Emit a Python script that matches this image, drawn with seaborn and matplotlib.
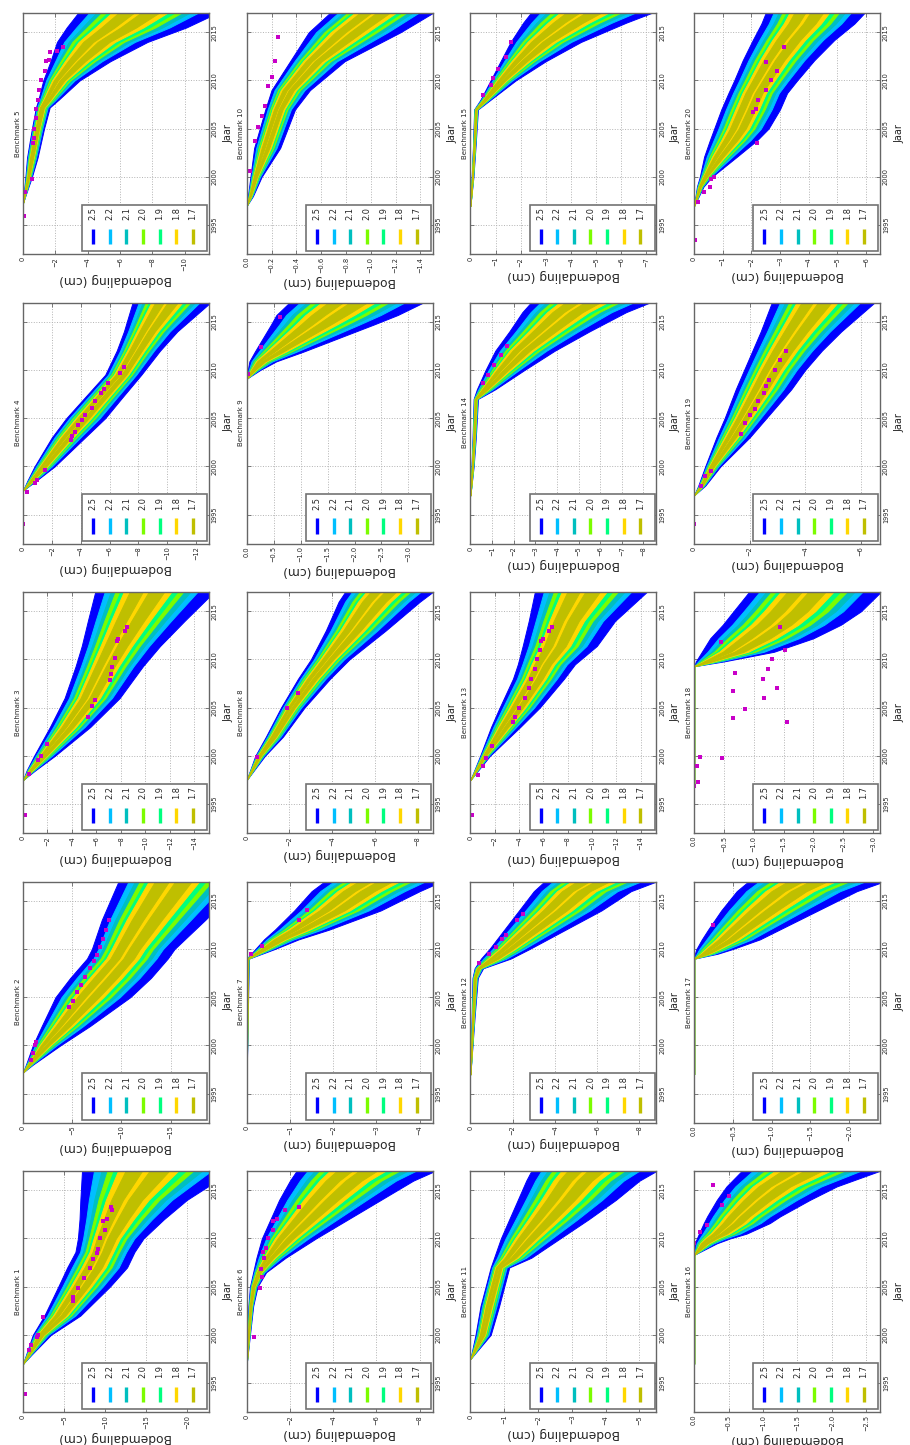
import numpy as np
import matplotlib
matplotlib.use("Agg")
import matplotlib.pyplot as plt
from matplotlib.patches import Rectangle
from matplotlib.ticker import MultipleLocator
from matplotlib import font_manager as fm
import seaborn as sns

# ---------------------------------------------------------------- legend levels
LEVELS = ["2.5", "2.2", "2.1", "2.0", "1.9", "1.8", "1.7"]
LEVEL_COLORS = ["#0000ff", "#00bfff", "#00bfbf", "#7cfc00", "#00ff7f", "#ffd700", "#bfbf00"]

# band layout across the envelope (0 = shallow edge, 1 = deep edge), drawn in order
BAND_COLOR = ["#0000ff", "#00bfff", "#00bfbf", "#7cfc00", "#00ff7f", "#ffd700", "#bfbf00", "#bfbf00"]
BAND_LO = [0.00, 0.08, 0.13, 0.17, 0.21, 0.24, 0.29, 0.45]
BAND_HI = [1.00, 0.86, 0.80, 0.74, 0.69, 0.64, 0.40, 0.58]

# axis minimum (cm) and tick step per benchmark 1..20
AX_MIN = [-22.7, -18.9, -15.2, -12.9, -11.5,
          -8.6, -4.3, -8.7, -3.45, -1.5,
          -5.5, -8.8, -15.3, -8.6, -7.4,
          -2.7, -2.4, -3.12, -6.7, -6.5]
TICK_STEP = [5, 5, 2, 2, 2,
             2, 1, 2, 0.5, 0.2,
             1, 2, 2, 1, 1,
             0.5, 0.5, 0.5, 2, 1]

# ---------------------------------------------------------------- envelopes & measurements
B1_T = [1997, 1998, 2000, 2002, 2005, 2007, 2008.6, 2010, 2012, 2014, 2017]
B1_S = [0, -0.4, -1.2, -2.6, -4.3, -5.4, -6.4, -6.7, -6.9, -7.0, -7.2]
B1_D = [0, -1.1, -3.4, -7.0, -10.6, -12.7, -13.6, -14.7, -17.2, -20.0, -25.5]
B1_PT = [1993.9, 1998.4, 1998.9, 1999.8, 2000.0, 2001.9, 2003.5, 2003.9, 2004.9, 2005.9,
         2006.9, 2007.9, 2008.5, 2008.9, 2010.0, 2010.9, 2011.8, 2012.0, 2013.0, 2013.3]
B1_PV = [-0.3, -0.7, -1.0, -1.7, -1.8, -2.4, -6.1, -6.1, -6.7, -7.5,
         -8.2, -8.6, -9.0, -9.1, -9.4, -10.0, -9.8, -10.3, -10.9, -10.7]

B2_T = [1997.2, 1998, 2000, 2002, 2005, 2007, 2009, 2010, 2013, 2017]
B2_S = [0, -0.3, -1.0, -1.9, -3.3, -4.8, -6.5, -7.0, -8.0, -9.7]
B2_D = [0, -1.0, -3.8, -6.8, -10.9, -13.0, -14.7, -15.4, -18.5, -22.5]
B2_PT = [1998.5, 1999.2, 2000.0, 2000.3, 2004.0, 2004.6, 2005.5, 2006.3, 2007.1, 2008.0,
         2008.8, 2009.4, 2010.2, 2011.0, 2012.0, 2013.0]
B2_PV = [-0.8, -1.0, -1.2, -1.3, -4.7, -5.1, -5.5, -5.9, -6.3, -6.8,
         -7.2, -7.5, -7.8, -8.1, -8.4, -8.7]

B3_T = [1997.5, 1998.5, 2000, 2003, 2006, 2009.3, 2011.4, 2014, 2017]
B3_S = [0, -0.3, -0.9, -2.2, -3.4, -4.3, -4.8, -5.3, -5.9]
B3_D = [0, -1.0, -2.6, -5.5, -7.9, -9.8, -11.2, -13.2, -15.6]
B3_PT = [1993.9, 1998.1, 1999.6, 2000.0, 2001.2, 2004.0, 2005.2, 2005.8, 2007.9, 2008.5,
         2009.2, 2010.2, 2011.9, 2012.1, 2013.0, 2013.4]
B3_PV = [-0.2, -0.5, -1.2, -1.5, -2.0, -5.3, -5.6, -5.9, -7.1, -7.2,
         -7.3, -7.5, -7.7, -7.8, -8.3, -8.5]

B4_T = [1997.5, 1998.5, 2000, 2003, 2005, 2007, 2009.5, 2012, 2014, 2017]
B4_S = [0, -0.3, -0.8, -2.0, -3.0, -4.2, -5.7, -6.5, -7.0, -7.6]
B4_D = [0, -0.9, -2.2, -4.3, -5.7, -6.8, -8.2, -9.5, -10.7, -13.0]
B4_PT = [1994.0, 1997.3, 1998.3, 1998.6, 1999.6, 2002.7, 2003.2, 2003.6, 2004.3, 2004.8,
         2005.3, 2006.1, 2006.8, 2007.6, 2008.0, 2008.7, 2009.7, 2010.3]
B4_PV = [0.0, -0.3, -0.8, -1.0, -1.5, -3.3, -3.4, -3.6, -3.8, -4.1,
         -4.3, -4.8, -5.0, -5.4, -5.6, -5.9, -6.7, -7.0]

B5_T = [1997.3, 1998.3, 2000, 2002, 2005, 2007.2, 2008, 2010, 2012, 2014, 2015.5, 2017]
B5_S = [0, -0.05, -0.15, -0.25, -0.55, -0.8, -0.95, -1.25, -1.7, -2.1, -2.7, -3.4]
B5_D = [0, -0.2, -0.55, -0.9, -1.3, -1.65, -2.2, -3.5, -5.4, -7.7, -10.1, -12.0]
B5_PT = [1995.9, 1998.4, 1999.8, 2003.5, 2004.0, 2005.0, 2006.1, 2007.0, 2008.0, 2009.0,
         2010.0, 2011.0, 2012.0, 2012.1, 2013.0, 2013.1, 2013.5]
B5_PV = [-0.05, -0.1, -0.55, -0.6, -0.65, -0.7, -0.8, -0.8, -0.95, -1.0,
         -1.1, -1.35, -1.4, -1.6, -1.7, -2.1, -2.5]

B6_T = [1997, 2000, 2003, 2005, 2006.5, 2008, 2010, 2012, 2014, 2016, 2017]
B6_S = [0, -0.03, -0.08, -0.15, -0.3, -0.45, -0.7, -1.1, -1.5, -2.0, -2.3]
B6_D = [0, -0.15, -0.3, -0.5, -0.9, -1.8, -3.2, -4.7, -6.2, -7.7, -8.7]
B6_PT = [1999.8, 2004.9, 2006.0, 2006.8, 2008.0, 2008.6, 2009.0, 2010.0, 2010.9, 2011.8,
         2012.0, 2013.0, 2013.3]
B6_PV = [-0.35, -0.6, -0.7, -0.65, -0.8, -0.77, -0.9, -0.97, -1.2, -1.2,
         -1.4, -1.75, -2.4]

B7_T = [1997, 2009, 2010, 2011, 2012, 2014, 2016, 2017]
B7_S = [0, 0, -0.2, -0.4, -0.65, -1.1, -1.5, -1.8]
B7_D = [0, -0.05, -0.65, -1.2, -1.9, -3.1, -4.0, -4.5]
B7_PT = [2009.5, 2010.3, 2013.0, 2014.0]
B7_PV = [-0.1, -0.35, -1.2, -1.4]

B8_T = [1997.5, 2000, 2002, 2005, 2008, 2010, 2013, 2016, 2017]
B8_S = [0, -0.4, -0.9, -1.6, -2.4, -3.0, -3.7, -4.3, -4.6]
B8_D = [0, -0.85, -1.7, -2.7, -3.9, -4.8, -6.5, -8.1, -8.7]
B8_PT = [1999.9, 2005.0, 2006.5]
B8_PV = [-0.5, -1.9, -2.4]

B9_T = [1997, 2009.1, 2010, 2010.9, 2011.9, 2013.3, 2014.7, 2015.7, 2017.2]
B9_S = [0, 0, -0.02, -0.05, -0.15, -0.3, -0.45, -0.55, -0.83]
B9_D = [0, 0, -0.25, -0.55, -1.05, -1.7, -2.35, -2.8, -3.35]
B9_PT = [2009.6, 2012.4, 2015.5]
B9_PV = [-0.03, -0.26, -0.62]

B10_T = [1997, 1998, 2000, 2003, 2007, 2009, 2012, 2015, 2017]
B10_S = [0, -0.01, -0.03, -0.06, -0.15, -0.2, -0.35, -0.5, -0.67]
B10_D = [0, -0.05, -0.12, -0.27, -0.39, -0.51, -0.79, -1.24, -1.5]
B10_PT = [2000.6, 2003.7, 2005.2, 2006.3, 2007.4, 2009.4, 2010.4, 2012.0, 2014.5]
B10_PV = [-0.03, -0.07, -0.09, -0.12, -0.15, -0.17, -0.2, -0.23, -0.25]

B11_T = [1997.5, 2000, 2003, 2005, 2007, 2008, 2010, 2012, 2014, 2016, 2017]
B11_S = [0, -0.15, -0.3, -0.45, -0.6, -0.7, -0.9, -1.15, -1.4, -1.65, -1.8]
B11_D = [0, -0.6, -0.85, -1.0, -1.15, -1.8, -2.65, -3.5, -4.3, -5.0, -5.5]
B11_PT = []
B11_PV = []

B12_T = [1997, 2000, 2003, 2007, 2008, 2009, 2010, 2012, 2014, 2016, 2017]
B12_S = [0, -0.03, -0.06, -0.1, -0.2, -0.5, -0.9, -1.6, -2.3, -3.0, -3.5]
B12_D = [0, -0.1, -0.2, -0.35, -0.6, -1.9, -2.8, -4.5, -6.2, -7.6, -8.8]
B12_PT = [2008.5, 2009.5, 2010.2, 2011.0, 2011.5, 2013.0, 2013.6]
B12_PV = [-0.4, -0.9, -1.2, -1.5, -1.7, -2.2, -2.5]

B13_T = [1997.5, 2000, 2003, 2005, 2008, 2009.5, 2011.4, 2014, 2017]
B13_S = [0, -0.8, -1.7, -2.4, -3.5, -3.9, -4.3, -4.8, -5.3]
B13_D = [0, -1.6, -4.1, -5.7, -7.7, -8.6, -10.4, -11.9, -14.5]
B13_PT = [1993.9, 1998.0, 1999.0, 1999.8, 2001.0, 2003.5, 2004.0, 2005.0, 2006.0, 2007.0,
          2008.0, 2009.0, 2010.0, 2011.0, 2011.9, 2012.1, 2013.0, 2013.4]
B13_PV = [-0.1, -0.6, -1.0, -1.3, -1.8, -3.5, -3.7, -4.0, -4.5, -4.8,
          -5.0, -5.3, -5.5, -5.7, -5.8, -6.0, -6.5, -6.7]

B14_T = [1997, 2000, 2003, 2007, 2008, 2010, 2012, 2014, 2016, 2017]
B14_S = [0, -0.05, -0.1, -0.15, -0.3, -0.7, -1.15, -1.8, -2.4, -2.8]
B14_D = [0, -0.15, -0.25, -0.35, -1.15, -2.5, -3.9, -5.5, -7.2, -8.3]
B14_PT = [2008.6, 2009.5, 2010.5, 2011.6, 2012.5]
B14_PV = [-0.6, -0.8, -1.1, -1.4, -1.7]

B15_T = [1997, 2000, 2003, 2007, 2008, 2010, 2012, 2014, 2016, 2017]
B15_S = [0, -0.05, -0.1, -0.15, -0.4, -0.8, -1.2, -1.6, -2.1, -2.4]
B15_D = [0, -0.12, -0.2, -0.3, -0.8, -1.8, -3.0, -4.4, -6.2, -7.2]
B15_PT = [2008.5, 2009.5, 2010.3, 2011.2, 2012.4, 2014.0]
B15_PV = [-0.5, -0.8, -0.9, -1.1, -1.4, -1.6]

B16_T = [1997, 2008.3, 2009.5, 2010, 2010.5, 2011.6, 2012.3, 2014, 2015.4, 2017]
B16_S = [0, 0, -0.01, -0.04, -0.07, -0.14, -0.19, -0.33, -0.47, -0.69]
B16_D = [0, 0, -0.33, -0.52, -0.76, -1.1, -1.25, -1.68, -2.07, -2.69]
B16_PT = [2009.5, 2010.7, 2011.4, 2013.5, 2014.4, 2015.5]
B16_PV = [0.0, -0.08, -0.18, -0.4, -0.51, -0.27]

B17_T = [1997, 2009, 2009.5, 2010, 2011, 2012, 2014, 2016, 2017]
B17_S = [0, 0, -0.01, -0.03, -0.1, -0.18, -0.35, -0.55, -0.7]
B17_D = [0, 0, -0.3, -0.5, -0.85, -1.1, -1.6, -2.1, -2.45]
B17_PT = [2012.5]
B17_PV = [-0.25]

B18_T = [1997, 2009.3, 2009.8, 2010.8, 2012.2, 2013.6, 2015, 2017]
B18_S = [0, 0, -0.03, -0.13, -0.27, -0.48, -0.66, -0.92]
B18_D = [0, 0, -0.5, -1.34, -2.0, -2.46, -2.8, -3.13]
B18_PT = [1996.9, 1997.3, 1998.9, 1999.9, 1999.8, 2003.9, 2004.9, 2003.5, 2006.7, 2006.0,
          2007.0, 2008.0, 2008.6, 2009.0, 2010.0, 2011.0, 2011.8, 2013.4]
B18_PV = [0.0, -0.07, -0.05, -0.1, -0.46, -0.65, -0.85, -1.55, -0.66, -1.18,
          -1.39, -1.16, -0.69, -1.24, -1.3, -1.53, -0.45, -1.44]

B19_T = [1997, 1998, 2000, 2003, 2005, 2008, 2010, 2012, 2014, 2017]
B19_S = [0, -0.15, -0.4, -0.8, -1.1, -1.5, -1.8, -2.1, -2.4, -2.8]
B19_D = [0, -0.4, -0.95, -2.0, -2.6, -3.5, -4.0, -4.6, -5.3, -6.5]
B19_PT = [1994.0, 1998.0, 1999.0, 1999.5, 2003.4, 2004.5, 2005.3, 2006.0, 2006.8, 2007.6,
          2008.3, 2009.0, 2010.0, 2011.0, 2012.0]
B19_PV = [0.0, -0.25, -0.4, -0.6, -1.7, -1.85, -2.0, -2.2, -2.3, -2.5,
          -2.6, -2.7, -2.9, -3.1, -3.3]

B20_T = [1997, 1999, 2000, 2002.1, 2003.8, 2005, 2007, 2008.7, 2010, 2012.1, 2014.2, 2015.9, 2017]
B20_S = [0, -0.1, -0.2, -0.35, -0.55, -0.7, -0.95, -1.2, -1.4, -1.7, -2.05, -2.35, -2.5]
B20_D = [0, -0.33, -0.62, -1.5, -2.2, -2.6, -3.0, -3.25, -3.6, -4.2, -4.9, -5.6, -5.95]
B20_PT = [1993.5, 1997.4, 1998.4, 1998.9, 1999.8, 2000.0, 2003.5, 2006.7, 2007.0, 2008.0,
          2009.0, 2010.0, 2011.0, 2011.9, 2013.5]
B20_PV = [-0.04, -0.12, -0.33, -0.56, -0.58, -0.7, -2.2, -2.06, -2.18, -2.23,
          -2.5, -2.7, -2.9, -2.53, -3.13]

_g = globals()
benchmarks = [(_g[f"B{k}_T"], _g[f"B{k}_S"], _g[f"B{k}_D"], _g[f"B{k}_PT"], _g[f"B{k}_PV"])
              for k in range(1, 21)]

# ---------------------------------------------------------------- style
sns.set_style("white")
_names = {f.name for f in fm.fontManager.ttflist}
if "Liberation Sans Narrow" in _names:
    NARROW, SC = "Liberation Sans Narrow", 1.0
else:
    NARROW, SC = "DejaVu Sans", 0.74
plt.rcParams["font.family"] = [NARROW, "DejaVu Sans"]
plt.rcParams["axes.unicode_minus"] = True

W, H = 910, 1445
fig = plt.figure(figsize=(W / 100, H / 100), dpi=100)

COL_LEFT = [23, 246.7, 470.4, 694.1]
ROW_BOTTOM = [1412, 1122.5, 833, 543.5, 254]
AX_W, AX_H = 186, 241

for i, (T, S, D, PT, PV) in enumerate(benchmarks):
    c, r = divmod(i, 5)
    xl, yb = COL_LEFT[c], ROW_BOTTOM[r]
    ax = fig.add_axes([xl / W, (H - yb) / H, AX_W / W, AX_H / H])

    T = np.asarray(T, float)
    S = np.asarray(S, float)
    D = np.asarray(D, float)
    for col, lo, hi in zip(BAND_COLOR, BAND_LO, BAND_HI):
        ax.fill_betweenx(T, S + lo * (D - S), S + hi * (D - S),
                         facecolor=col, edgecolor=col, lw=0.7, zorder=1)

    if len(PT):
        sns.scatterplot(x=PV, y=PT, ax=ax, color="#c800c8", s=6, linewidth=0,
                        marker="s", zorder=4)

    ax.set_xlim(0, AX_MIN[i])
    ax.set_ylim(1992, 2017)
    ax.xaxis.set_major_locator(MultipleLocator(TICK_STEP[i]))
    ax.yaxis.set_major_locator(MultipleLocator(5))
    ax.yaxis.tick_right()
    ax.yaxis.set_label_position("right")
    ax.tick_params(axis="both", direction="in", length=3, width=0.6, color="0.4",
                   top=True, bottom=True, left=True, right=True,
                   labelsize=6.5 * SC, pad=2)
    ax.tick_params(axis="x", labelrotation=90)
    ax.tick_params(axis="y", labelrotation=90, labelleft=False, labelright=True)
    for lab in ax.get_yticklabels():
        lab.set_va("center")

    ax.set_axisbelow(True)
    ax.grid(True, ls=":", lw=0.7, color="0.7")
    for sp in ax.spines.values():
        sp.set_color("0.4")
        sp.set_linewidth(1.0)
        sp.set_zorder(7)

    ax.set_xlabel("Bodemdaling (cm)", rotation=180, fontsize=8.8,
                  fontfamily="DejaVu Sans", labelpad=1.5)
    ax.set_ylabel("Jaar", rotation=90, fontsize=9.5 * SC, labelpad=4)
    ax.text(-0.012, 0.5, f"Benchmark {i + 1}", rotation=90, transform=ax.transAxes,
            ha="right", va="center", fontsize=6.8 * SC)

    # legend, laid out sideways like the rest of the panel
    ax.add_patch(Rectangle((0.318, 0.012), 0.672, 0.193, transform=ax.transAxes,
                           facecolor="white", edgecolor="0.45", lw=1.2, zorder=5))
    for j, (lab, col) in enumerate(zip(LEVELS, LEVEL_COLORS)):
        xj = 0.378 + j * 0.0892
        ax.plot([xj, xj], [0.041, 0.104], transform=ax.transAxes, color=col, lw=2.4,
                solid_capstyle="butt", zorder=6)
        ax.text(xj, 0.166, lab, transform=ax.transAxes, rotation=90, ha="center",
                va="center", fontsize=8 * SC, zorder=6)

fig.savefig("out.png", dpi=100)
